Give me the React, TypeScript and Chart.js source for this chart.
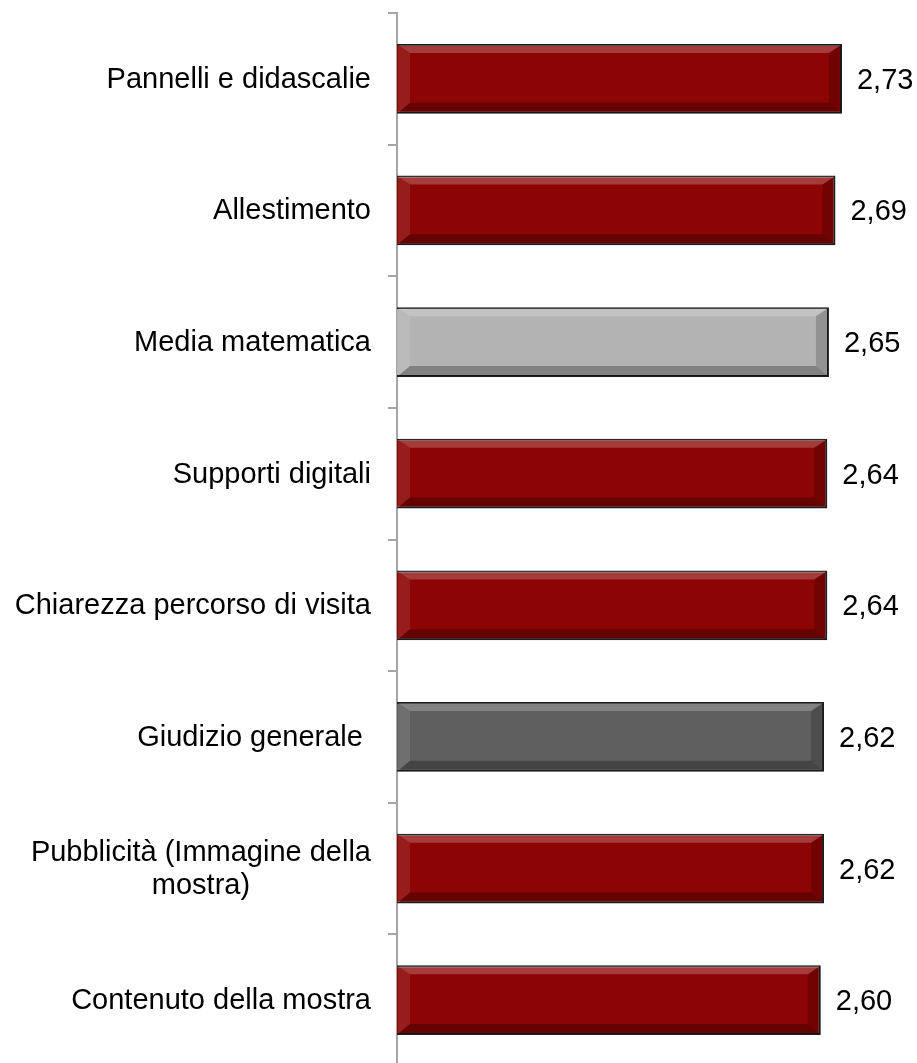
import React, { useEffect, useRef } from "react";
import { Chart, registerables } from "chart.js";

Chart.register(...registerables);

const categories: (string | string[])[] = [
  "Pannelli e didascalie",
  "Allestimento",
  "Media matematica",
  "Supporti digitali",
  "Chiarezza percorso di visita",
  "Giudizio generale ",
  ["Pubblicità (Immagine della", "mostra)"],
  "Contenuto della mostra",
];

const values: number[] = [2.73, 2.69, 2.65, 2.64, 2.64, 2.62, 2.62, 2.6];

const RED = "#8C0404";
const LIGHT_GREY = "#B3B3B3";
const DARK_GREY = "#5F5F5F";
const barColors: string[] = [RED, RED, LIGHT_GREY, RED, RED, DARK_GREY, RED, RED];

const FONT = "29px 'Liberation Sans', Arial, sans-serif";

const bevelPlugin = {
  id: "bevel",
  afterDatasetsDraw(chart: any) {
    const ctx = chart.ctx;
    const meta = chart.getDatasetMeta(0);
    meta.data.forEach((bar: any) => {
      const L = Math.min(bar.base, bar.x) + 1;
      const R = Math.max(bar.base, bar.x) - 1;
      const T = bar.y - bar.height / 2 + 1;
      const B = bar.y + bar.height / 2 - 1;
      const w = 12;
      const t = 8;
      const b = 10;
      ctx.save();
      const poly = (pts: number[][], fill: string) => {
        ctx.beginPath();
        ctx.moveTo(pts[0][0], pts[0][1]);
        for (let i = 1; i < pts.length; i++) ctx.lineTo(pts[i][0], pts[i][1]);
        ctx.closePath();
        ctx.fillStyle = fill;
        ctx.fill();
      };
      poly([[L, T], [R, T], [R - w, T + t], [L + w, T + t]], "rgba(255,255,255,0.22)");
      poly([[L, T], [L + w, T + t], [L + w, B - b], [L, B]], "rgba(255,255,255,0.10)");
      poly([[L, B], [L + w, B - b], [R - w, B - b], [R, B]], "rgba(0,0,0,0.28)");
      poly([[R, T], [R - w, T + t], [R - w, B - b], [R, B]], "rgba(0,0,0,0.18)");
      ctx.restore();
    });
  },
};

const labelsPlugin = {
  id: "customLabels",
  afterDraw(chart: any) {
    const ctx = chart.ctx;
    const yScale = chart.scales.y;
    const meta = chart.getDatasetMeta(0);
    ctx.save();
    ctx.font = FONT;
    ctx.fillStyle = "#000000";
    ctx.textBaseline = "middle";
    const lineHeight = 33;
    const rightEdge = yScale.right - 26;
    categories.forEach((cat, i) => {
      const lines = Array.isArray(cat) ? cat : [cat];
      const y = yScale.getPixelForValue(i);
      const maxW = Math.max(...lines.map((l) => ctx.measureText(l).width));
      const cx = rightEdge - maxW / 2;
      ctx.textAlign = "center";
      lines.forEach((line, k) => {
        const ly = y + (k - (lines.length - 1) / 2) * lineHeight + 1;
        ctx.fillText(line, cx, ly);
      });
    });
    ctx.textAlign = "left";
    meta.data.forEach((bar: any, i: number) => {
      const txt = values[i].toFixed(2).replace(".", ",");
      ctx.fillText(txt, bar.x + 15, bar.y + 2);
    });
    ctx.restore();
  },
};

export default function App() {
  const ref = useRef<HTMLCanvasElement>(null);
  useEffect(() => {
    if (!ref.current) return;
    const chart = new Chart(ref.current, {
      type: "bar",
      data: {
        labels: categories,
        datasets: [
          {
            data: values,
            backgroundColor: barColors,
            borderColor: "#1c1c1c",
            borderWidth: 2,
            borderSkipped: "start",
            barPercentage: 0.53,
            categoryPercentage: 1,
          },
        ],
      },
      options: {
        indexAxis: "y",
        responsive: false,
        animation: false,
        layout: { padding: { top: 13, bottom: 4, right: 31, left: 0 } },
        plugins: { legend: { display: false }, tooltip: { enabled: false } },
        scales: {
          x: {
            display: false,
            min: 0,
            max: 3,
          },
          y: {
            afterFit: (scale: any) => {
              scale.width = 397;
            },
            ticks: { display: false },
            grid: {
              offset: true,
              drawOnChartArea: false,
              drawTicks: true,
              tickLength: 9,
              color: "#A6A6A6",
              lineWidth: 2,
            },
            border: { display: true, color: "#A6A6A6", width: 2 },
          },
        },
      },
      plugins: [bevelPlugin, labelsPlugin],
    });
    return () => chart.destroy();
  }, []);
  return (
    <div
      style={{
        position: "absolute",
        left: 0,
        top: 0,
        width: 917,
        height: 1063,
        overflow: "hidden",
        background: "#ffffff",
      }}
    >
      <canvas ref={ref} width={917} height={1070} style={{ display: "block" }} />
    </div>
  );
}
